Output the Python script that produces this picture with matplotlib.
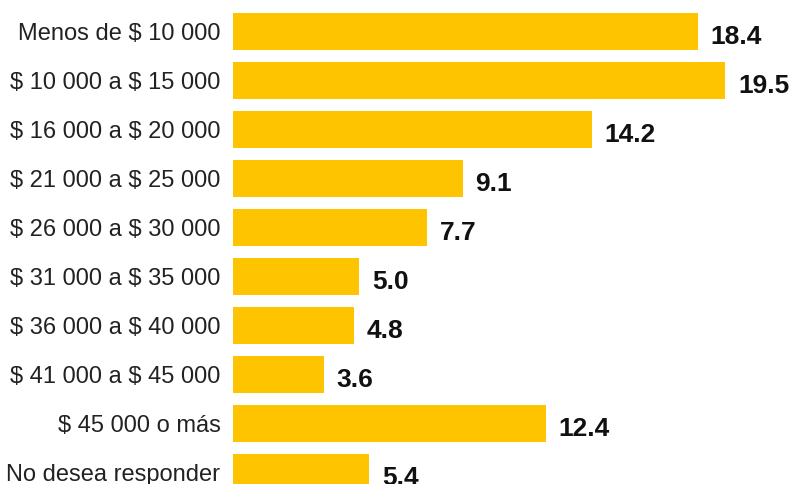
import matplotlib.pyplot as plt

# income ranges and share of respondents (%)
categories = ['Menos de $ 10 000', '$ 10 000 a $ 15 000', '$ 16 000 a $ 20 000',
              '$ 21 000 a $ 25 000', '$ 26 000 a $ 30 000', '$ 31 000 a $ 35 000',
              '$ 36 000 a $ 40 000', '$ 41 000 a $ 45 000', '$ 45 000 o más',
              'No desea responder']
values = [18.4, 19.5, 14.2, 9.1, 7.7, 5.0, 4.8, 3.6, 12.4, 5.4]
value_labels = ['18.4', '19.5', '14.2', '9.1', '7.7', '5.0', '4.8', '3.6', '12.4', '5.4']

fig = plt.figure(figsize=(7.9, 4.84), dpi=100)
ax = fig.add_axes([233 / 790, 0, 557 / 790, 1])

pos = list(range(len(categories)))
ax.barh(pos, values, height=0.765, color='#FFC400')

for y, v, lab in zip(pos, values, value_labels):
    ax.annotate(lab, (v, y), xytext=(9, -3.5), textcoords='offset points',
                ha='left', va='center', fontsize=19, fontweight='bold',
                family='Liberation Sans', color='#111111')

ax.set_yticks(pos)
ax.set_yticklabels(categories, fontsize=17, family='Liberation Sans',
                   color='#222222', parse_math=False)
ax.tick_params(axis='y', length=0, pad=9)
ax.set_xticks([])
ax.set_xlim(0, 557 / 25.25)
ax.set_ylim(9.23, -0.647)
for s in ax.spines.values():
    s.set_visible(False)

fig.savefig('out.png', dpi=100)
